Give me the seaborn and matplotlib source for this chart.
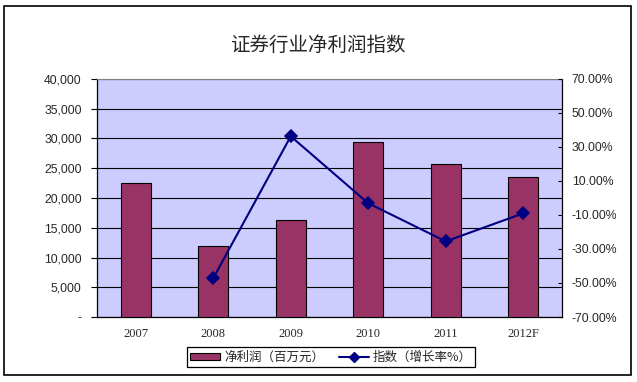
import matplotlib
matplotlib.use("Agg")
import matplotlib.pyplot as plt
import seaborn as sns
import pandas as pd
from matplotlib.patches import Patch, Rectangle
from matplotlib.lines import Line2D
from matplotlib.ticker import FuncFormatter

# 数据
years = ["2007", "2008", "2009", "2010", "2011", "2012F"]
profit = [22500, 11900, 16250, 29350, 25650, 23500]          # 净利润（百万元）
idx_years = ["2008", "2009", "2010", "2011", "2012F"]
growth = [-47.2, 36.3, -3.1, -25.5, -9.0]                    # 指数（增长率%）

title = "证券行业净利润指数"
bar_label = "净利润（百万元）"
line_label = "指数（增长率%）"

bar_color = "#993366"
line_color = "#000080"
bg_color = "#CCCCFF"

sns.set_style("white")
plt.rcParams["font.family"] = ["Liberation Sans", "Noto Sans CJK SC", "DejaVu Sans"]

fig = plt.figure(figsize=(6.37, 3.82), dpi=100)
ax = fig.add_axes([97 / 637, 1 - 317 / 382, 465 / 637, 238 / 382])
ax.set_facecolor(bg_color)

df_bar = pd.DataFrame({"year": years, "profit": profit})
sns.barplot(data=df_bar, x="year", y="profit", order=years, color=bar_color,
            width=0.39, edgecolor="black", linewidth=0.8, saturation=1, ax=ax, zorder=3)

ax.set_ylim(0, 40000)
ax.set_yticks(range(0, 40001, 5000))
ax.yaxis.set_major_formatter(FuncFormatter(lambda v, p: "-" if v == 0 else f"{int(v):,}"))
ax.grid(axis="y", color="black", linewidth=0.8, zorder=1)
ax.set_axisbelow(True)
ax.set_xlim(-0.5, 5.5)
ax.set_xlabel("")
ax.set_ylabel("")
ax.set_xticks([i + 0.5 for i in range(5)], minor=True)
ax.tick_params(axis="x", which="major", length=0, pad=8, labelsize=9)
ax.tick_params(axis="x", which="minor", direction="in", length=3, color="black")
ax.tick_params(axis="y", direction="out", length=4, labelsize=8.8, pad=7, color="black")
for lbl in ax.get_xticklabels():
    lbl.set_family("Liberation Serif")
for s in ["left", "bottom", "right"]:
    ax.spines[s].set_color("black")
    ax.spines[s].set_linewidth(0.9)
ax.spines["top"].set_color("#808080")

ax2 = ax.twinx()
df_line = pd.DataFrame({"year": idx_years, "growth": growth})
sns.pointplot(data=df_line, x="year", y="growth", order=years, color=line_color,
              markers="D", markersize=6, linewidth=1.5, errorbar=None, ax=ax2)
ax2.set_xlim(-0.5, 5.5)
ax2.set_ylim(-70, 70)
ax2.set_yticks(range(-70, 71, 20))
ax2.yaxis.set_major_formatter(FuncFormatter(lambda v, p: f"{v:.2f}%"))
ax2.tick_params(axis="y", direction="in", length=3, labelsize=8.8, pad=7, color="black")
ax2.set_ylabel("")
ax2.set_xlabel("")
for s in ax2.spines.values():
    s.set_visible(False)

fig.text(318 / 637, 1 - 45 / 382, title, ha="center", va="center", fontsize=14,
         family=["Noto Sans CJK SC", "DejaVu Sans"])

handles = [Patch(facecolor=bar_color, edgecolor="black", linewidth=0.8),
           Line2D([0], [0], color=line_color, marker="D", markersize=5, linewidth=1.5)]
leg = fig.legend(handles, [bar_label, line_label], loc="center",
                 bbox_to_anchor=(331 / 637, 1 - 357 / 382), ncol=2, frameon=True,
                 fancybox=False, edgecolor="black", framealpha=1,
                 prop={"family": ["Noto Sans CJK SC", "DejaVu Sans"], "size": 9},
                 handlelength=2.4, handleheight=0.5, columnspacing=1.2,
                 borderpad=0.25, handletextpad=0.3)
leg.get_frame().set_linewidth(0.9)

fig.patches.append(Rectangle((4 / 637, 1 - 375 / 382), 627 / 637, 369 / 382,
                             transform=fig.transFigure, fill=False,
                             edgecolor="black", linewidth=1.2))

fig.savefig("out.png", dpi=100)
